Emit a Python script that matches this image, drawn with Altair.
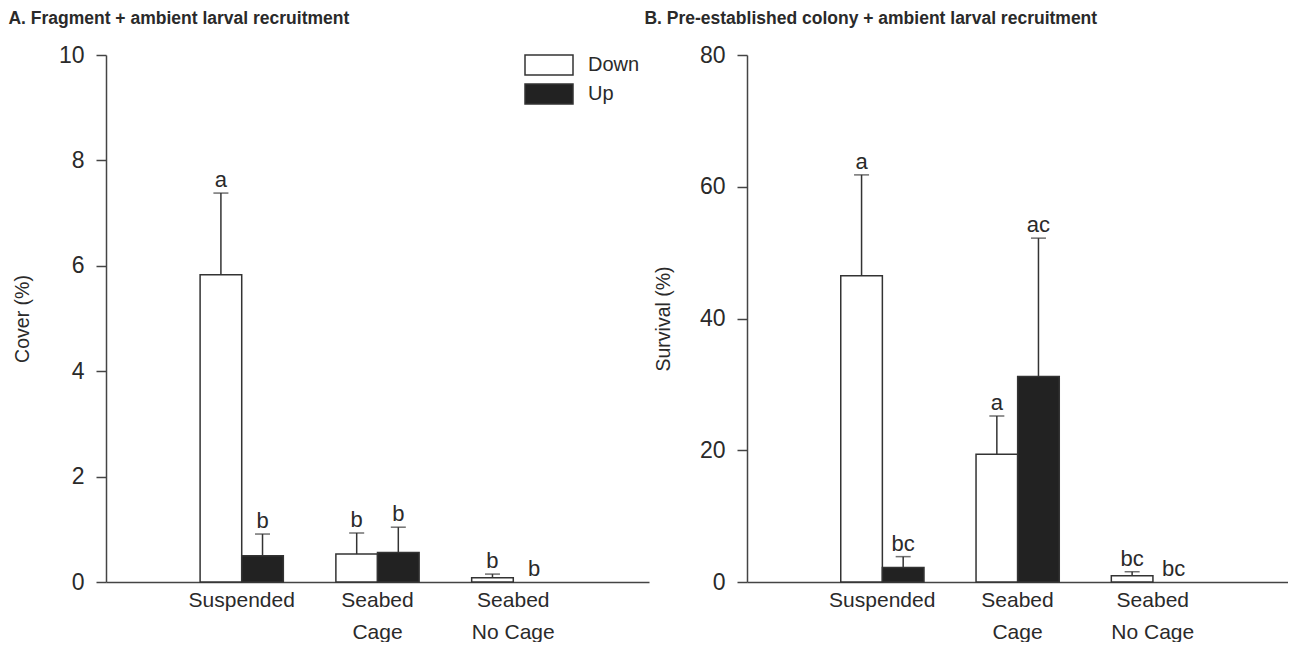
import altair as alt
import pandas as pd

categories = ["Suspended", "Seabed Cage", "Seabed No Cage"]
series = ["Down", "Up"]

# Panel A: Cover (%)
a_down = [5.83, 0.53, 0.08]
a_down_se = [1.55, 0.40, 0.07]
a_up = [0.50, 0.56, 0.0]
a_up_se = [0.41, 0.48, 0.0]
a_down_letters = ["a", "b", "b"]
a_up_letters = ["b", "b", "b"]

# Panel B: Survival (%)
b_down = [46.5, 19.4, 0.96]
b_down_se = [15.3, 5.8, 0.6]
b_up = [2.2, 31.2, 0.0]
b_up_se = [1.65, 21.0, 0.0]
b_down_letters = ["a", "a", "bc"]
b_up_letters = ["bc", "ac", "bc"]

FONT = "Liberation Sans"
INK = "#2a2a2a"


def make_df(down, down_se, up, up_se, dl, ul):
    rows = []
    for i, c in enumerate(categories):
        rows.append(dict(cat=c, series="Down", mean=down[i], se=down_se[i],
                         top=down[i] + down_se[i], letter=dl[i]))
        rows.append(dict(cat=c, series="Up", mean=up[i], se=up_se[i],
                         top=up[i] + up_se[i], letter=ul[i]))
    return pd.DataFrame(rows)


label_expr = ("datum.label == 'Suspended' ? datum.label : "
              "[slice(datum.label, 0, 6), slice(datum.label, 7)]")


def panel(df, title, ytitle, ymax, ystep, width, show_legend, tdx):
    xenc = alt.X("cat:N", sort=categories,
                 scale=alt.Scale(paddingInner=0.387, paddingOuter=0.693),
                 axis=alt.Axis(title=None, ticks=False, labelAngle=0,
                               labelExpr=label_expr, labelFontSize=21,
                               labelLineHeight=32, labelPadding=7,
                               labelFont=FONT, labelColor=INK,
                               domainColor="#444", domainWidth=1.5))
    xoff = alt.XOffset("series:N", sort=series,
                       scale=alt.Scale(paddingInner=0, paddingOuter=0))
    yscale = alt.Scale(domain=[0, ymax], nice=False)
    yaxis = alt.Axis(title=ytitle, values=list(range(0, ymax + 1, ystep)),
                     grid=False, tickSize=10, tickColor="#444", tickWidth=1.5,
                     domainColor="#444", domainWidth=1.5,
                     labelFontSize=23, labelFont=FONT, labelColor=INK,
                     labelPadding=12, titleFontSize=19.5, titleFont=FONT,
                     titleFontWeight="normal", titleColor=INK, titlePadding=26)
    if show_legend:
        legend = alt.Legend(title=None, orient="none", legendX=432, legendY=-1,
                            symbolType="M-2.4,-1H2.4V1H-2.4Z", symbolSize=400,
                            symbolStrokeColor="#333", symbolStrokeWidth=1.5,
                            symbolOpacity=1,
                            labelFontSize=20, labelFont=FONT, labelColor=INK,
                            labelOffset=28, rowPadding=3, padding=0)
    else:
        legend = None
    fill = alt.Fill("series:N", sort=series,
                    scale=alt.Scale(domain=series, range=["white", "#222"]),
                    legend=legend)

    base = alt.Chart(df)
    bars = base.transform_filter("datum.mean > 0").mark_bar(
        stroke="#333", strokeWidth=1.5, opacity=1
    ).encode(x=xenc, xOffset=xoff,
             y=alt.Y("mean:Q", scale=yscale, axis=yaxis), fill=fill)
    err = base.transform_filter("datum.se > 0").mark_rule(
        color="#333", strokeWidth=1.5
    ).encode(x=xenc, xOffset=xoff, y="mean:Q", y2="top:Q")
    cap = base.transform_filter("datum.se > 0").mark_tick(
        color="#333", thickness=1.5, size=15, orient="horizontal"
    ).encode(x=xenc, xOffset=xoff, y="top:Q")
    txt = base.mark_text(
        fontSize=22, font=FONT, color=INK, baseline="alphabetic", dy=-6
    ).encode(x=xenc, xOffset=xoff, y="top:Q", text="letter:N")

    return alt.layer(bars, err, cap, txt).properties(
        width=width, height=527,
        title=alt.TitleParams(title, anchor="start", frame="bounds",
                              font=FONT, fontSize=17.5, fontWeight="bold",
                              color=INK, offset=16.5, dx=tdx)
    )


pa = panel(make_df(a_down, a_down_se, a_up, a_up_se, a_down_letters, a_up_letters),
           "A. Fragment + ambient larval recruitment", "Cover (%)", 10, 2, 543, True, -4)
pb = panel(make_df(b_down, b_down_se, b_up, b_up_se, b_down_letters, b_up_letters),
           "B. Pre-established colony + ambient larval recruitment", "Survival (%)", 80, 20, 541, False, -9)

chart = alt.hconcat(pa, pb, spacing=98, bounds="flush").resolve_scale(fill="independent").properties(
    padding={"left": 8, "top": 10, "right": 0, "bottom": 0},
    background="white"
).configure_view(stroke=None)

chart.save("out.html", embed_options={"renderer": "svg", "actions": False})
